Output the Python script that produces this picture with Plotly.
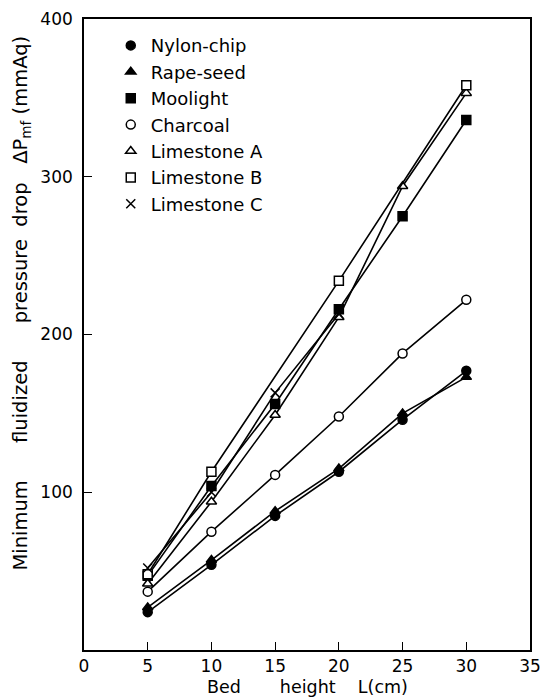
import plotly.graph_objects as go

# Bed height L (cm)
bed_height = [5, 10, 15, 20, 25, 30]

# Minimum fluidized pressure drop (mmAq)
nylon_chip = [24, 54, 85, 113, 146, 177]
rape_seed = [27, 57, 88, 115, 150, 173]
moolight = [47, 104, 156, 216, 275, 336]
charcoal = [37, 75, 111, 148, 188, 222]
limestone_a = [42, 94, 149, 211, 294, 353]
limestone_b = [48, 113, None, 234, None, 358]
limestone_c = [52, 100, 163, 213, None, None]

x_ticks = [0, 5, 10, 15, 20, 25, 30, 35]
y_ticks = [100, 200, 300, 400]

series = [
    ("Nylon-chip", nylon_chip, "circle", "black"),
    ("Rape-seed", rape_seed, "triangle-up", "black"),
    ("Moolight", moolight, "square", "black"),
    ("Charcoal", charcoal, "circle", "white"),
    ("Limestone A", limestone_a, "triangle-up", "white"),
    ("Limestone B", limestone_b, "square", "white"),
    ("Limestone C", limestone_c, "x-thin-open", "black"),
]

FONT = "DejaVu Sans"
NB = "\u00a0"
fig = go.Figure()


def make_marker(sym, fill):
    return dict(symbol=sym, size=9, color=fill, line=dict(color="black", width=1.5))


for name, vals, sym, fill in series:
    fig.add_trace(go.Scatter(
        x=bed_height, y=vals, name=name, mode="lines+markers",
        connectgaps=True, showlegend=False,
        line=dict(color="black", width=1.6),
        marker=make_marker(sym, fill),
    ))

# legend entries: markers only
for name, vals, sym, fill in series:
    fig.add_trace(go.Scatter(
        x=[None], y=[None], name=name, mode="markers",
        marker=make_marker(sym, fill), showlegend=True,
    ))

axis_common = dict(
    showline=True, mirror=True, linecolor="black", linewidth=1.6,
    ticks="inside", ticklen=8, tickwidth=1.3, tickcolor="black",
    showgrid=False, zeroline=False, automargin=False,
    tickfont=dict(family=FONT, size=17, color="black"),
)

fig.update_layout(
    width=543, height=698,
    margin=dict(l=84, r=13, t=19, b=48),
    paper_bgcolor="white", plot_bgcolor="white",
    font=dict(family=FONT, color="black"),
    xaxis=dict(range=[0, 35], tickvals=x_ticks, **axis_common),
    yaxis=dict(range=[0, 400], tickvals=y_ticks, ticklabelstandoff=6, **axis_common),
    legend=dict(x=0.06, y=0.987, xanchor="left", yanchor="top",
                bgcolor="rgba(0,0,0,0)", font=dict(family=FONT, size=18),
                itemwidth=30, tracegroupgap=0),
    annotations=[
        dict(
            text=("Minimum" + NB * 6 + "fluidized" + NB * 6 + "pressure" + NB * 2 + "drop"
                  + NB * 3 + "\u0394P<sub>mf</sub>" + NB + "(mmAq)"),
            textangle=-90, xref="paper", yref="paper", x=-0.14, y=0.55,
            xanchor="center", yanchor="middle", showarrow=False,
            font=dict(family=FONT, size=19.5, color="black"),
        ),
        dict(
            text="Bed" + NB * 7 + "height" + NB * 4 + "L(cm)",
            xref="paper", yref="paper", x=0.5, y=-0.059,
            xanchor="center", yanchor="middle", showarrow=False,
            font=dict(family=FONT, size=17.5, color="black"),
        ),
    ],
)

fig.write_html(
    "out.html",
    config={"displayModeBar": False},
    post_script="document.body.style.margin='0';document.body.style.overflow='hidden';",
)
